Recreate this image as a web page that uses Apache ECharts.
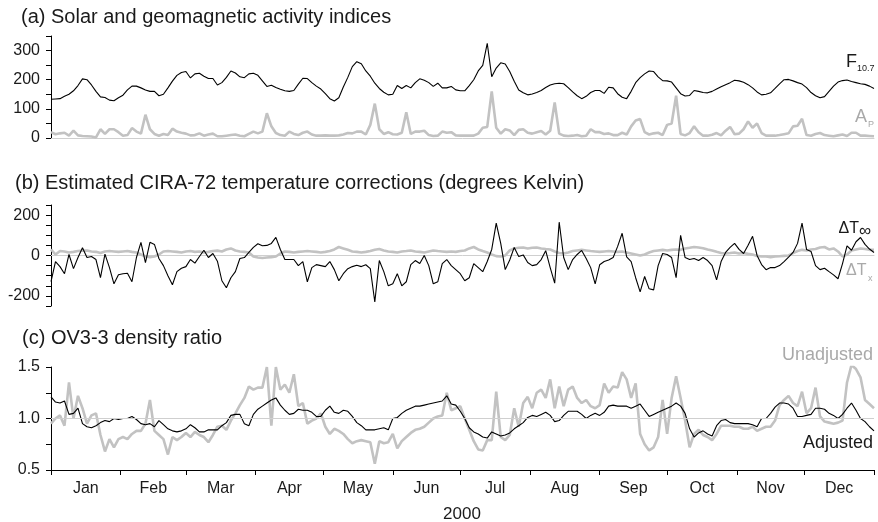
<!DOCTYPE html>
<html><head><meta charset="utf-8">
<script src="https://cdn.jsdelivr.net/npm/echarts@6/dist/echarts.min.js"></script>
<style>html,body{margin:0;padding:0;background:#fff}#c{width:878px;height:522px}</style>
</head><body><div id="c"></div>
<script>
// ---- data (year 2000, sampled every 2 days, day 0 = Jan 1) ----
const monthNames = ['Jan','Feb','Mar','Apr','May','Jun','Jul','Aug','Sep','Oct','Nov','Dec'];
const monthStarts = [0,31,60,91,121,152,182,213,244,274,305,335,366];
const sampleStep = 2;
const yearLabel = '2000';

const f107 = [
133,134,135,143,150,162,180,203,200,182,
160,141,139,130,128,138,147,165,178,178,
172,165,160,160,145,150,172,195,215,225,
228,206,220,222,212,204,204,182,190,208,
230,223,210,207,220,222,215,196,177,181,
173,167,162,160,163,185,205,204,190,178,
168,152,135,127,138,175,208,245,262,255,
230,212,188,170,157,148,150,180,170,180,
172,190,203,198,190,177,188,172,172,
177,165,162,162,180,200,230,249,325,210,
240,258,254,228,195,165,155,148,151,156,
163,173,182,186,188,186,173,158,145,135,
143,156,163,163,153,174,172,152,140,135,
160,190,207,220,230,228,210,197,196,192,
172,152,144,146,163,160,156,155,160,168,
176,183,190,198,196,191,183,172,158,148,
150,155,170,186,200,201,196,190,185,173,
156,145,138,142,160,178,192,197,199,194,
190,186,184,178,170];

const ap = [
20,13,16,18,8,25,9,7,6,5,
2,30,14,30,30,20,8,10,34,22,
15,80,30,14,8,14,10,32,22,18,
15,9,10,16,8,12,15,6,6,8,
10,12,8,6,14,22,16,22,85,40,
17,10,8,22,14,10,18,22,12,8,
8,9,8,8,9,12,17,16,22,22,
12,45,118,30,14,20,13,12,18,88,
14,22,22,25,10,7,8,22,18,
20,9,8,8,8,8,15,35,38,160,
35,15,30,26,10,28,30,18,15,20,
24,12,25,122,15,8,7,8,10,6,
8,30,20,20,14,16,10,10,18,12,
40,60,65,20,12,16,18,10,45,50,
145,14,9,17,40,20,8,8,11,17,
9,25,38,13,15,30,57,35,50,17,
8,8,8,10,13,16,40,42,66,10,
8,14,17,10,8,6,9,12,7,18,
18,8,8,7,6];

const dTinf = [
-129,-30,-55,-90,5,-65,-10,38,-10,-5,
-20,-110,7,-60,-140,-95,-90,-88,-130,-10,
65,-35,65,55,-15,-50,-100,-145,-80,-63,
-55,-20,-38,-5,26,-10,10,-28,-125,-160,
-110,-80,-15,-10,15,40,58,48,50,60,
90,30,-20,-20,-20,-50,-30,-130,-60,-45,
-50,-55,-30,-70,-125,-90,-65,-55,-48,-55,
-46,-65,-230,-25,-80,-150,-140,-90,-150,-130,
-45,-25,-40,0,-50,-140,-130,-40,-20,
-50,-70,-90,-125,-110,-40,-60,-80,-30,30,
160,60,-70,-22,40,-5,3,-35,-50,-45,
-20,24,-60,-137,165,-10,-70,-20,5,25,
-15,-60,-140,-46,-30,-22,-10,45,110,-7,
-30,-110,-180,-104,-165,-170,-50,10,5,-10,
-110,100,-10,-20,-15,-25,-10,-25,-50,-121,
-30,15,40,60,30,10,51,95,0,-45,
-70,-60,-60,-50,-30,-8,15,60,160,30,
20,-50,-70,-63,-80,-96,-115,-40,48,26,
68,89,55,32,15];

const dTx = [
30,5,22,20,15,18,22,24,25,20,
18,12,20,22,20,18,20,22,18,15,
5,-5,-8,-5,5,20,22,20,18,15,
20,22,18,20,15,18,22,24,20,30,
35,25,20,18,15,-5,-10,-12,-10,-8,
-5,10,20,18,15,18,20,22,20,18,
15,18,22,30,42,35,28,20,18,15,
18,22,28,32,25,20,18,15,20,22,
25,20,18,15,20,25,22,20,18,
20,18,22,25,35,42,30,22,15,5,
-3,-5,0,25,35,38,40,35,38,40,
35,32,30,20,12,10,15,22,25,28,
25,22,20,18,20,22,20,18,20,15,
10,5,0,5,15,22,25,28,25,28,
30,28,35,38,42,40,36,30,25,18,
12,10,12,15,10,12,8,5,-2,-5,
-5,-8,-5,-4,-2,0,12,22,28,25,
30,32,40,42,30,35,20,-5,5,25,
30,35,32,28,28];

const adjusted = [
1.21,1.16,1.15,1.17,1.04,1.05,1.10,0.95,0.92,0.91,
0.93,0.96,0.98,0.97,1.0,0.99,1.0,1.0,1.02,0.99,
0.95,0.94,0.95,0.92,0.98,0.94,0.90,0.88,0.87,0.88,
0.90,0.94,0.91,0.87,0.87,0.89,0.89,0.89,0.93,0.96,
1.03,1.04,1.04,0.95,0.93,1.04,1.09,1.12,1.15,1.18,
1.2,1.13,1.08,1.04,1.05,1.09,1.08,1.08,1.06,1.02,
1.02,1.08,1.12,1.06,1.05,1.08,1.07,1.02,0.96,0.93,
0.89,0.89,0.89,0.90,0.91,0.89,1.0,1.01,1.05,1.08,
1.10,1.12,1.12,1.13,1.14,1.15,1.16,1.17,1.22,
1.14,1.13,1.07,1.0,0.91,0.87,0.85,0.82,0.81,0.87,
0.85,0.83,0.84,0.86,0.90,0.93,0.96,1.01,1.03,1.02,
1.04,1.06,1.03,0.97,0.98,1.03,1.07,1.07,1.07,1.04,
1.0,1.03,1.05,1.03,1.06,1.12,1.13,1.12,1.12,1.12,
1.10,1.12,1.14,1.08,1.02,1.04,1.06,1.08,1.10,1.12,
1.15,1.12,1.05,0.90,0.82,0.86,0.88,0.85,0.83,0.93,
0.98,0.99,0.96,0.95,0.95,0.95,0.95,0.94,0.92,1.0,
1.0,1.05,1.11,1.15,1.15,1.14,1.10,1.02,1.02,1.03,
1.04,1.10,1.10,1.09,1.05,1.03,1.0,1.04,1.10,1.15,
1.08,1.0,0.97,0.92,0.88];

const unadjusted = [
0.95,1.0,1.03,0.93,1.35,1.0,1.22,1.1,0.95,1.03,
1.05,0.84,0.68,0.80,0.72,0.80,0.82,0.80,0.85,0.88,
0.88,0.95,1.18,0.88,0.84,0.80,0.65,0.82,0.79,0.82,
0.86,0.82,0.87,0.84,0.82,0.77,0.84,0.92,0.93,0.89,
0.98,1.05,1.13,1.2,1.31,1.28,1.3,1.3,1.5,0.93,
1.5,1.28,1.33,1.25,1.43,1.12,1.15,0.95,0.98,1.0,
1.05,0.92,0.85,0.90,0.88,0.85,0.80,0.76,0.78,0.79,
0.78,0.77,0.56,0.78,0.76,0.77,0.85,0.71,0.78,0.82,
0.86,0.89,0.90,0.92,0.96,1.0,1.02,1.03,1.25,
1.08,1.10,1.12,1.0,0.89,0.78,0.70,0.69,0.79,0.79,
1.26,0.82,0.79,0.84,1.1,0.92,1.15,1.21,1.1,1.25,
1.28,1.2,1.38,1.1,1.31,1.12,1.28,1.31,1.2,1.15,
1.18,1.12,1.1,1.13,1.34,1.25,1.31,1.3,1.45,1.38,
1.2,1.34,0.85,0.75,0.69,0.72,0.82,1.18,0.85,1.2,
1.41,1.2,0.98,0.72,0.85,0.89,0.84,0.82,0.79,0.85,
0.93,0.93,0.93,0.92,0.92,0.90,0.90,0.92,0.88,0.90,
0.92,0.92,0.98,1.13,1.18,1.22,1.15,1.12,1.26,1.05,
1.10,1.30,1.02,0.97,0.96,0.95,0.96,0.98,1.35,1.52,
1.48,1.40,1.18,1.14,1.10];

// ---- chart ----
const days = f107.map((_, i) => i * sampleStep);
const pair = arr => arr.map((v, i) => [days[i], v]);
const monthMids = monthNames.map((_, i) => (monthStarts[i] + monthStarts[i + 1]) / 2);

const FONT = '"Liberation Sans", Arial, Helvetica, sans-serif';
const TXT = '#1a1a1a';
const GRAY = '#c2c2c2';
const GRAYTXT = '#a9a9a9';
const REF = '#cfcfcf';

const L = 51, R = 4;
const grids = [
  {left: L, right: R, top: 36, height: 102},
  {left: L, right: R, top: 205, height: 101},
  {left: L, right: R, top: 367, height: 103}
];

function hiddenX(gi, lineColor) {
  return {
    type: 'value', gridIndex: gi, min: 0, max: 366,
    axisLine: {show: !!lineColor, onZero: true, lineStyle: {color: lineColor || '#000', width: 1}},
    axisTick: {show: false}, axisLabel: {show: false}, splitLine: {show: false}
  };
}
function yAx(gi, min, max, interval, labelFn) {
  return {
    type: 'value', gridIndex: gi, min, max, interval,
    axisLine: {show: true, onZero: false, lineStyle: {color: '#000', width: 1}},
    axisTick: {show: true, length: 5, lineStyle: {color: '#000', width: 1}},
    axisLabel: {color: TXT, fontSize: 16, fontFamily: FONT, margin: 11, formatter: labelFn},
    splitLine: {show: false}
  };
}
const near = (v, m) => Math.abs(v / m - Math.round(v / m)) < 1e-6;
const mid = {verticalAlign: 'middle', textVerticalAlign: 'middle'};
const txt = (x, y, text, size, fill, extra) => ({type: 'text', x, y,
  style: Object.assign({text, font: size + 'px ' + FONT, fill}, mid, extra || {})});

const option = {
  animation: false,
  backgroundColor: '#fff',
  grid: grids,
  xAxis: [
    hiddenX(0, REF),
    hiddenX(1, REF),
    {
      type: 'value', gridIndex: 2, min: 0, max: 366,
      axisLine: {show: true, onZero: false, lineStyle: {color: '#000', width: 1}},
      axisTick: {show: true, length: 5, customValues: monthStarts, lineStyle: {color: '#000', width: 1}},
      axisLabel: {
        show: true, customValues: monthMids, color: TXT, fontSize: 16, fontFamily: FONT, margin: 11,
        formatter: v => { const i = monthMids.findIndex(m => Math.abs(m - v) < 1e-6); return i >= 0 ? monthNames[i] : ''; }
      },
      splitLine: {show: false}
    }
  ],
  yAxis: [
    yAx(0, 0, 350, 50, v => near(v, 100) ? String(v) : ''),
    yAx(1, -250, 250, 50, v => near(v, 200) ? String(v) : ''),
    yAx(2, 0.5, 1.5, 0.25, v => near(v, 0.5) ? v.toFixed(1) : '')
  ],
  series: [
    {type: 'line', xAxisIndex: 0, yAxisIndex: 0, data: pair(ap), showSymbol: false, symbol: 'none',
     lineStyle: {color: GRAY, width: 2.6}, z: 2},
    {type: 'line', xAxisIndex: 0, yAxisIndex: 0, data: pair(f107), showSymbol: false, symbol: 'none',
     lineStyle: {color: '#000', width: 1.1}, z: 3},
    {type: 'line', xAxisIndex: 1, yAxisIndex: 1, data: pair(dTx), showSymbol: false, symbol: 'none',
     lineStyle: {color: GRAY, width: 2.6}, z: 2},
    {type: 'line', xAxisIndex: 1, yAxisIndex: 1, data: pair(dTinf), showSymbol: false, symbol: 'none',
     lineStyle: {color: '#000', width: 1.1}, z: 3},
    {type: 'line', xAxisIndex: 2, yAxisIndex: 2, data: pair(unadjusted), showSymbol: false, symbol: 'none',
     lineStyle: {color: GRAY, width: 2.6}, z: 2,
     markLine: {silent: true, symbol: 'none', label: {show: false}, animation: false,
       lineStyle: {color: REF, width: 1, type: 'solid'}, data: [{yAxis: 1}]}},
    {type: 'line', xAxisIndex: 2, yAxisIndex: 2, data: pair(adjusted), showSymbol: false, symbol: 'none',
     lineStyle: {color: '#000', width: 1.1}, z: 3}
  ],
  graphic: [
    txt(21, 17, '(a) Solar and geomagnetic activity indices', 20, TXT),
    txt(15, 183, '(b) Estimated CIRA-72 temperature corrections (degrees Kelvin)', 20, TXT),
    txt(22, 338, '(c) OV3-3 density ratio', 20, TXT),
    txt(846, 62, 'F', 18, TXT),
    txt(857, 69, '10.7', 9, TXT),
    txt(855, 117, 'A', 18, GRAYTXT),
    txt(868, 125, 'P', 9, GRAYTXT),
    txt(859, 229, '\u0394T', 16, TXT, {align: 'right', textAlign: 'right'}),
    txt(859, 231, '\u221E', 17, TXT),
    txt(846, 271, '\u0394T', 16, GRAYTXT),
    txt(868, 279, 'x', 9, GRAYTXT),
    txt(873, 355, 'Unadjusted', 18, GRAYTXT, {align: 'right', textAlign: 'right'}),
    txt(873, 443, 'Adjusted', 18, TXT, {align: 'right', textAlign: 'right'}),
    txt(462, 514, yearLabel, 17, TXT, {align: 'center', textAlign: 'center'})
  ]
};
const chart = echarts.init(document.getElementById('c'), null, {renderer: 'canvas'});
chart.setOption(option);
</script></body></html>
